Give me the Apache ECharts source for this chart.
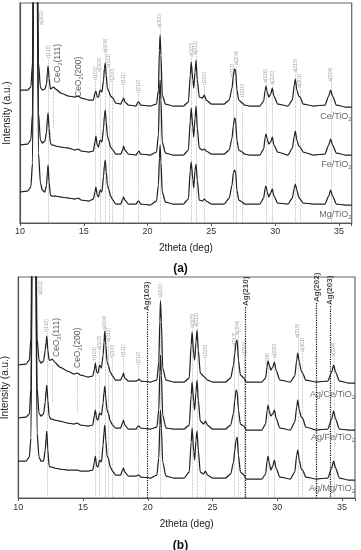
<!DOCTYPE html>
<html><head><meta charset="utf-8">
<script src="https://cdn.jsdelivr.net/npm/echarts@6/dist/echarts.min.js"></script>
<style>html,body{margin:0;padding:0;background:#fff}#c{width:361px;height:550px}</style>
</head><body><div id="c"></div>
<script>
// ---- 2theta sample positions (deg) shared by all patterns ----
const twoTheta = [10.0,10.6,10.85,10.98,11.08,11.2,11.32,11.45,11.6,11.75,
11.95,12.08,12.15,12.2,12.28,12.38,12.5,12.62,12.8,13.2,
13.8,14.3,14.55,14.8,15.4,15.75,15.88,15.95,16.05,16.15,
16.28,16.42,16.55,16.62,16.68,16.76,16.85,16.95,17.1,17.28,
17.5,17.9,18.05,18.12,18.22,18.5,19.1,19.25,19.32,19.45,
20.2,20.7,20.85,20.93,20.98,21.05,21.15,21.4,22.0,22.8,
23.2,23.35,23.42,23.55,23.62,23.72,23.8,23.9,24.05,24.3,
24.45,24.6,25.0,26.0,26.4,26.62,26.72,26.82,26.9,27.0,
27.15,27.42,27.6,28.0,28.8,29.1,29.22,29.28,29.38,29.5,
29.65,29.78,29.9,30.2,31.0,31.35,31.5,31.58,31.7,31.85,
31.95,32.2,33.0,33.9,34.2,34.35,34.5,34.8,35.5,36.0];

// ---- panel (a) intensities (a.u., stacked offsets included) ----
const ceTiO2 = [133,133,136,160,330,800,330,160,136,133,
134,139,151,157,145,134,135,136,134,130,
127,126,127,125,123,123,130,132,126,126,
133,131,143,155,160,148,135,132,127,125,
120,119,123,125,121,118,117,121,121,118,
117,119,133,173,188,168,128,119,117,117,
121,148,161,143,135,151,163,143,126,125,
128,123,119,119,123,135,147,154,153,133,
123,120,118,117,117,122,133,137,131,126,
129,135,127,119,117,123,138,144,133,127,
126,119,117,118,127,133,127,118,116,116];
const feTiO2 = [78,79,83,110,300,800,300,110,83,80,
82,91,105,110,95,80,78,78,77,76,
75,73,74,72,71,72,81,87,78,76,
83,81,95,108,113,101,87,83,76,73,
69,69,73,77,73,69,68,71,72,69,
68,71,88,128,143,123,81,70,68,68,
73,103,115,95,86,105,117,95,75,73,
74,72,69,69,73,85,97,105,103,83,
73,71,69,68,68,74,86,89,84,79,
81,86,78,71,68,75,87,92,83,77,
76,71,68,69,78,84,78,70,68,68];
const mgTiO2 = [31,32,36,60,280,800,280,70,40,33,
31,38,51,58,41,28,27,27,27,26,
25,24,25,23,22,24,31,36,28,26,
33,31,47,58,63,51,38,34,27,23,
19,19,24,26,23,19,19,22,22,19,
18,22,38,65,78,61,31,21,19,19,
24,53,61,43,35,53,59,43,23,22,
24,22,19,19,25,38,50,53,51,33,
23,21,19,19,19,25,35,37,31,26,
30,34,27,20,19,25,35,39,33,26,
24,20,19,19,27,33,27,19,18,18];

// ---- panel (b) intensities ----
const agCeTiO2 = [133,134,138,160,330,800,330,160,138,135,
137,148,156,162,148,138,138,139,136,131,
127,124,125,123,121,122,129,135,126,125,
133,130,143,156,167,153,136,133,126,122,
118,118,122,125,120,117,117,118,119,117,
116,118,136,178,197,176,130,118,116,116,
120,153,166,143,138,156,168,148,125,122,
120,118,116,116,120,133,145,156,158,138,
123,120,116,116,116,120,132,137,133,128,
131,136,128,118,116,122,138,145,136,127,
125,118,116,117,126,133,126,117,115,115];
const agFeTiO2 = [80,81,84,110,300,800,300,110,85,82,
84,96,108,113,98,82,79,79,78,77,
75,74,75,73,72,73,83,88,79,78,
85,83,95,106,112,100,88,85,77,73,
70,70,75,78,73,69,69,72,72,70,
69,71,88,126,143,123,83,70,69,69,
73,103,116,96,88,106,118,98,77,74,
77,73,69,69,73,85,98,108,106,88,
74,72,68,68,68,74,88,93,87,82,
84,88,80,70,68,76,91,98,88,81,
80,71,68,69,79,87,79,69,68,68];
const agMgTiO2 = [37,37,41,60,280,800,280,65,41,37,
37,48,60,67,48,32,31,31,30,29,
28,28,28,27,27,28,36,42,32,31,
38,36,53,66,73,58,42,40,31,27,
23,23,28,30,26,22,22,23,23,21,
20,23,40,73,88,70,36,22,20,20,
26,56,70,46,38,58,67,48,26,24,
27,23,20,20,24,36,48,58,61,43,
26,23,19,19,19,24,38,42,35,28,
32,38,30,21,19,26,43,48,38,29,
28,21,19,20,30,37,30,20,18,18];

// ---- phase reflections (a = anatase, r = rutile) ----
const phaseNames = ['a(101)','r(110)','r(101)','a(103)','a(004)','a(112)','r(200)','r(111)','r(210)','a(200)',
'a(105)','a(211)','r(220)','a(213)','a(204)','r(310)','a(116)','a(220)','a(215)','a(301)','a(224)'];
const phasePos = [11.7,12.22,15.93,16.28,16.7,16.98,17.27,18.12,19.3,20.98,
23.44,23.8,24.47,26.7,26.95,27.45,29.28,29.8,31.58,31.94,34.38];
const phaseHasLine = [false,true,true,true,true,true,true,true,true,true,
true,true,true,true,true,true,true,true,true,true,true];
const phaseLabelA = [198,165,143,151,170,155,141,138,130,195,166,168,138,145,158,126,140,138,150,135,141];
const phaseLabelB = [203,166,138,148,168,156,140,141,133,200,170,171,140,151,163,143,131,140,160,146,141];

// ---- CeO2 reflections ----
const ceo2Names = ['CeO{s|2}(111)','CeO{s|2}(200)'];
const ceo2Pos = [12.62,14.55];
const ceo2TextPos = [12.95,14.62];
const ceo2LabelA = [140,126];
const ceo2LabelB = [141,130];

// ---- Ag reflections (panel b) ----
const agNames = ['Ag(103)','Ag(210)','Ag(202)','Ag(203)'];
const agPos = [19.92,27.56,33.04,34.07];
const agLabel = [187,192,196,193];

// ---- sample names ----
const sampleA = ['Ce/TiO{s|2}','Fe/TiO{s|2}','Mg/TiO{s|2}'];
const sampleAY = [106,58,8];
const sampleB = ['Ag/Ce/TiO{s|2}','Ag/Fe/TiO{s|2}','Ag/Mg/TiO{s|2}'];
const sampleBY = [103,60,9];

const xTicks = [10,15,20,25,30,35];

const FONT = 'Liberation Sans, Arial, Helvetica, sans-serif';
const chart = echarts.init(document.getElementById('c'), null, {renderer:'canvas'});

function trace(vals, gi) {
  return {type:'line', xAxisIndex:gi, yAxisIndex:gi, data: twoTheta.map((x,i)=>[x, vals[i]]),
    symbol:'none', showSymbol:false, smooth:0.25, smoothMonotone:'x', clip:true, z:5,
    lineStyle:{color:'#222', width:1.25}, silent:true, animation:false};
}
function phaseSeries(gi, labs) {
  return {type:'scatter', xAxisIndex:gi, yAxisIndex:gi, symbolSize:0, z:2, silent:true, animation:false,
    data: phasePos.map((x,i)=>({value:[x, labs[i]], label:{formatter: phaseNames[i]}})),
    label:{show:true, position:'inside', rotate:90, align:'left', verticalAlign:'middle', fontSize:5, color:'#8a8a8a', fontFamily:FONT},
    markLine:{symbol:'none', silent:true, animation:false, label:{show:false},
      lineStyle:{color:'#a0a0a0', type:'dotted', width:0.7},
      data: phasePos.map((x,i)=>phaseHasLine[i] ? [{coord:[x, labs[i]-1]},{coord:[x,0]}] : null).filter(Boolean)}
  };
}
const rich9 = {a:{fontSize:9, color:'#444', fontFamily:FONT}, s:{fontSize:6, color:'#444', fontFamily:FONT, padding:[5,0,0,0]}};
function ceo2Series(gi, labs) {
  return {type:'scatter', xAxisIndex:gi, yAxisIndex:gi, symbolSize:0, z:2, silent:true, animation:false,
    data: ceo2TextPos.map((x,i)=>({value:[x, labs[i]], label:{formatter: '{a|' + ceo2Names[i].replace('{s|2}','}{s|2}{a|') + '}'}})),
    label:{show:true, position:'inside', rotate:90, align:'left', verticalAlign:'middle',
      rich:{a:{fontSize:8.5, color:'#333', fontFamily:FONT}, s:{fontSize:5.5, color:'#333', fontFamily:FONT, padding:[5,0,0,0]}}},
    markLine:{symbol:'none', silent:true, animation:false, label:{show:false},
      lineStyle:{color:'#a0a0a0', type:'dotted', width:0.7},
      data: ceo2Pos.map((x,i)=>[{coord:[x, labs[i]-8]},{coord:[x, labs[i]-45]}])}
  };
}
function sampleSeries(gi, names, ys) {
  return {type:'scatter', xAxisIndex:gi, yAxisIndex:gi, symbolSize:0, z:6, silent:true, animation:false, clip:false,
    data: names.map((n,i)=>({value:[36, ys[i]], label:{formatter:'{a|' + n.replace('{s|2}','}{s|2}{a|') + '}'}})),
    label:{show:true, position:'inside', align:'right', verticalAlign:'middle', rich:rich9}
  };
}
const agSeries = {type:'scatter', xAxisIndex:1, yAxisIndex:1, symbolSize:0, z:3, silent:true, animation:false,
  data: agPos.map((x,i)=>({value:[x, agLabel[i]], label:{formatter: agNames[i]}})),
  label:{show:true, position:'inside', rotate:90, align:'left', verticalAlign:'middle', fontSize:8, fontWeight:'bold', color:'#111', fontFamily:FONT},
  markLine:{symbol:'none', silent:true, animation:false, label:{show:false},
    lineStyle:{color:'#111', type:'dotted', width:1.2},
    data: agPos.map((x,i)=>[{coord:[x, agLabel[i]-1]},{coord:[x,0]}])}
};

function xAxis(gi, gap, margin) {
  return {type:'value', gridIndex:gi, min:10, max:36, interval:5, name:'2theta (deg)', nameLocation:'middle', nameGap:gap,
    nameTextStyle:{fontSize:10, color:'#222', fontFamily:FONT},
    axisLine:{lineStyle:{color:'#555', width:1.2}}, axisTick:{show:true, length:3, lineStyle:{color:'#555'}},
    axisLabel:{fontSize:9, color:'#333', margin:margin, fontFamily:FONT, formatter:(v)=> xTicks.includes(v) ? String(v) : ''},
    splitLine:{show:false}};
}
function yAxis(gi, max) {
  return {type:'value', gridIndex:gi, min:0, max:max, name:'Intensity (a.u.)', nameLocation:'middle', nameGap:8,
    nameTextStyle:{fontSize:10, color:'#222', fontFamily:FONT},
    axisLine:{show:true, lineStyle:{color:'#555', width:1.2}}, axisTick:{show:false}, axisLabel:{show:false}, splitLine:{show:false}};
}

chart.setOption({
  animation:false,
  backgroundColor:'#fff',
  title:[
    {text:'(a)', left:'center', top:258, textStyle:{fontSize:12, fontWeight:'bold', color:'#111', fontFamily:FONT}},
    {text:'(b)', left:'center', top:535, textStyle:{fontSize:12, fontWeight:'bold', color:'#111', fontFamily:FONT}}
  ],
  grid:[
    {left:20, top:3, right:9.3, bottom:327, show:true, borderColor:'#666', borderWidth:1.2, outerBoundsMode:'none', containLabel:false},
    {left:18.3, top:277, right:6, bottom:52, show:true, borderColor:'#666', borderWidth:1.2, outerBoundsMode:'none', containLabel:false}
  ],
  xAxis:[xAxis(0,20,4), xAxis(1,21,5)],
  yAxis:[yAxis(0,220), yAxis(1,221)],
  series:[
    phaseSeries(0, phaseLabelA), ceo2Series(0, ceo2LabelA),
    trace(ceTiO2,0), trace(feTiO2,0), trace(mgTiO2,0), sampleSeries(0, sampleA, sampleAY),
    phaseSeries(1, phaseLabelB), ceo2Series(1, ceo2LabelB), agSeries,
    trace(agCeTiO2,1), trace(agFeTiO2,1), trace(agMgTiO2,1), sampleSeries(1, sampleB, sampleBY)
  ]
});
</script></body></html>
